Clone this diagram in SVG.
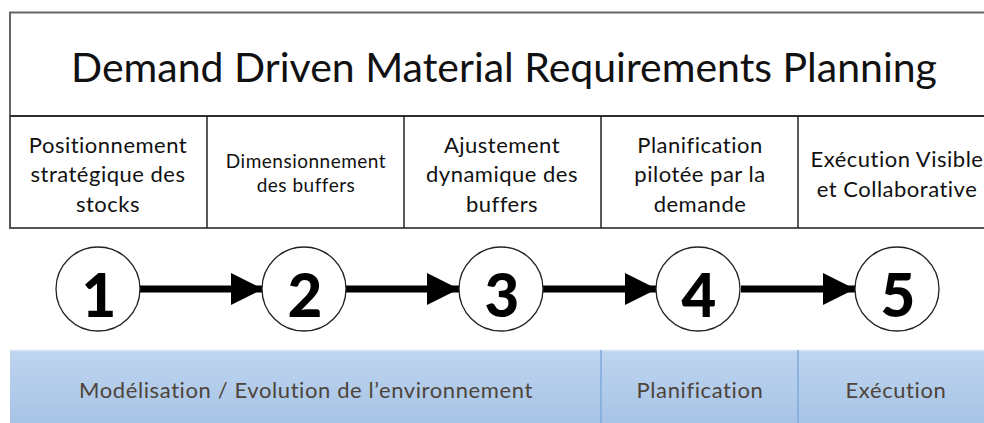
<svg xmlns="http://www.w3.org/2000/svg" width="984" height="423" viewBox="0 0 984 423">
<defs>
<linearGradient id="band" x1="0" y1="0" x2="0" y2="1">
<stop offset="0" stop-color="#bfd5ef"/>
<stop offset="1" stop-color="#a4c2e5"/>
</linearGradient>
<marker id="arr" viewBox="0 0 10 10" refX="10" refY="5" markerWidth="4.6" markerHeight="4.6" markerUnits="strokeWidth" orient="auto">
<path d="M0,0 L10,5 L0,10 Z" fill="#000"/>
</marker>
</defs>
<style>
.t{font-family:Lato,"Open Sans","Liberation Sans",sans-serif;fill:#111;text-anchor:middle}
.title{font-size:41px}
.col{font-size:22px;letter-spacing:0.5px}
.small{font-size:19px;letter-spacing:0.5px}
.num{font-family:Lato,"Liberation Sans",sans-serif;font-weight:900;font-size:60px;fill:#000;text-anchor:middle}
.circ{fill:#fff;stroke:#222;stroke-width:1.3}
.band{font-family:Lato,"Open Sans","Liberation Sans",sans-serif;font-size:22px;letter-spacing:0.6px;fill:#4d443a;text-anchor:middle}
</style>
<rect width="984" height="423" fill="#fff"/>
<g id="title">
<rect x="10" y="12.5" width="990" height="103.5" fill="#fff" stroke="#666" stroke-width="2"/>
<text class="t title" x="504" y="82">Demand Driven Material Requirements Planning</text>
</g>
<g id="step-labels">
<rect x="10" y="116" width="990" height="112" fill="#fff" stroke="#555" stroke-width="2"/>
<line x1="10" y1="116" x2="984" y2="116" stroke="#222" stroke-width="1.5"/>
<line x1="207" y1="116" x2="207" y2="228" stroke="#222" stroke-width="1.5"/>
<line x1="404" y1="116" x2="404" y2="228" stroke="#222" stroke-width="1.5"/>
<line x1="601" y1="116" x2="601" y2="228" stroke="#222" stroke-width="1.5"/>
<line x1="798" y1="116" x2="798" y2="228" stroke="#222" stroke-width="1.5"/>
<text class="t col" x="108" y="153">Positionnement</text>
<text class="t col" x="108" y="182">stratégique des</text>
<text class="t col" x="108" y="212">stocks</text>
<text class="t small" x="306" y="168">Dimensionnement</text>
<text class="t small" x="306" y="192">des buffers</text>
<text class="t col" x="502" y="153">Ajustement</text>
<text class="t col" x="502" y="182">dynamique des</text>
<text class="t col" x="502" y="212">buffers</text>
<text class="t col" x="700" y="153">Planification</text>
<text class="t col" x="700" y="182">pilotée par la</text>
<text class="t col" x="700" y="212">demande</text>
<text class="t col" x="897" y="167">Exécution Visible</text>
<text class="t col" x="897" y="197">et Collaborative</text>
</g>
<g id="connectors" stroke="#000" stroke-width="7" fill="none">
<line x1="140" y1="289" x2="263" y2="289" marker-end="url(#arr)"/>
<line x1="346" y1="289" x2="459" y2="289" marker-end="url(#arr)"/>
<line x1="543" y1="289" x2="657" y2="289" marker-end="url(#arr)"/>
<line x1="741" y1="289" x2="855" y2="289" marker-end="url(#arr)"/>
</g>
<g id="step1"><circle class="circ" cx="98" cy="289" r="42"/><text class="num" x="99" y="317">1</text></g>
<g id="step2"><circle class="circ" cx="304" cy="289" r="42"/><text class="num" x="305" y="317">2</text></g>
<g id="step3"><circle class="circ" cx="501" cy="289" r="42"/><text class="num" x="502" y="317">3</text></g>
<g id="step4"><circle class="circ" cx="698" cy="289" r="42"/><text class="num" x="699" y="317">4</text></g>
<g id="step5"><circle class="circ" cx="897" cy="289" r="42"/><text class="num" x="898" y="317">5</text></g>
<g id="phases">
<rect x="10" y="350" width="980" height="80" fill="url(#band)"/>
<line x1="10" y1="350.5" x2="984" y2="350.5" stroke="#d6e5f6" stroke-width="1.5"/>
<line x1="601" y1="350" x2="601" y2="423" stroke="#7eaadb" stroke-width="1.5"/>
<line x1="798" y1="350" x2="798" y2="423" stroke="#7eaadb" stroke-width="1.5"/>
<text class="band" x="306" y="398">Modélisation / Evolution de l’environnement</text>
<text class="band" x="700" y="398">Planification</text>
<text class="band" x="896" y="398">Exécution</text>
</g>
</svg>
